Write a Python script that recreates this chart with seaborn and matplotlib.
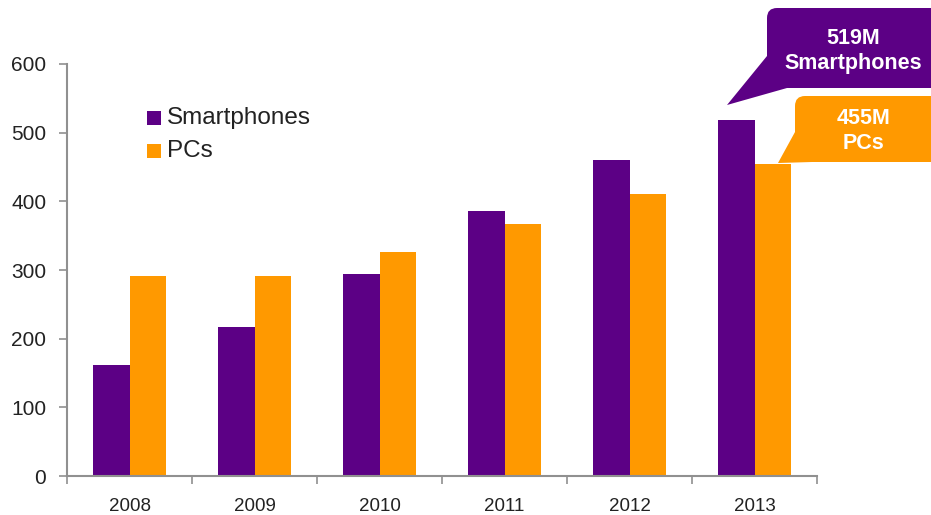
import seaborn as sns
import pandas as pd
import matplotlib.pyplot as plt
from matplotlib.patches import FancyBboxPatch, Polygon, Rectangle
from matplotlib.transforms import IdentityTransform

years = ["2008", "2009", "2010", "2011", "2012", "2013"]
smartphones = [162, 217, 294, 386, 460, 519]
pcs = [291, 291, 326, 367, 410, 455]
series = ["Smartphones", "PCs"]
colors = ["#5c0085", "#ff9900"]

df = pd.DataFrame({
    "year": years * 2,
    "units": smartphones + pcs,
    "device": [series[0]] * 6 + [series[1]] * 6,
})

sns.set_style("white")
plt.rcParams["font.family"] = ["Liberation Sans", "DejaVu Sans"]

W, H = 931, 515
fig = plt.figure(figsize=(W / 100, H / 100), dpi=100)
ax = fig.add_axes([67 / W, 39 / H, 750 / W, 412 / H])

sns.barplot(data=df, x="year", y="units", hue="device", palette=colors,
            width=0.58, gap=0, saturation=1, linewidth=0, ax=ax, legend=False)

ax.set_xlim(-0.5, 5.5)
ax.set_ylim(0, 600)
ax.set_yticks(range(0, 601, 100))
ax.set_xlabel("")
ax.set_ylabel("")
for s in ["top", "right"]:
    ax.spines[s].set_visible(False)
for s in ["left", "bottom"]:
    ax.spines[s].set_color("#909090")
    ax.spines[s].set_linewidth(1.5)
ax.tick_params(axis="y", length=6, width=1.2, color="#909090", labelsize=15,
               labelcolor="#222222", left=True, pad=9)
ax.tick_params(axis="x", which="major", length=0, labelsize=13.5,
               labelcolor="#222222", pad=16)
ax.set_xticks([i - 0.5 for i in range(7)], minor=True)
ax.tick_params(axis="x", which="minor", length=6, width=1.2,
               color="#909090", bottom=True)

pix = IdentityTransform()


def P(x, y):
    # pixel coords measured from the top-left corner
    return (x, H - y)


# legend
for i, (name, c) in enumerate(zip(series, colors)):
    y = 118 + i * 33
    fig.patches.append(Rectangle(P(147, y + 7), 14, 14, fc=c, ec="none",
                                 transform=pix))
    fig.text(167 / W, 1 - y / H, name, fontsize=17.5, va="center",
             color="#222222")


def callout(x0, y0, x1, y1, tail, c, label, tx, ty):
    fig.patches.append(FancyBboxPatch(P(x0, y1), x1 - x0, y1 - y0,
                                      boxstyle="round,pad=0,rounding_size=10",
                                      fc=c, ec="none", transform=pix))
    fig.patches.append(Polygon([P(*p) for p in tail], closed=True, fc=c,
                               ec="none", transform=pix))
    fig.text(tx / W, 1 - ty / H, label, color="white", fontsize=15.5,
             fontweight="bold", ha="center", va="center", linespacing=1.25)


callout(767, 8, 960, 88, [(767, 56), (727, 105), (787, 88)], colors[0],
        f"{smartphones[-1]}M\nSmartphones", 853, 51)
callout(795, 96, 960, 162, [(795, 132), (778, 163), (812, 162)], colors[1],
        f"{pcs[-1]}M\nPCs", 864, 131)

fig.savefig("out.png", dpi=100)
